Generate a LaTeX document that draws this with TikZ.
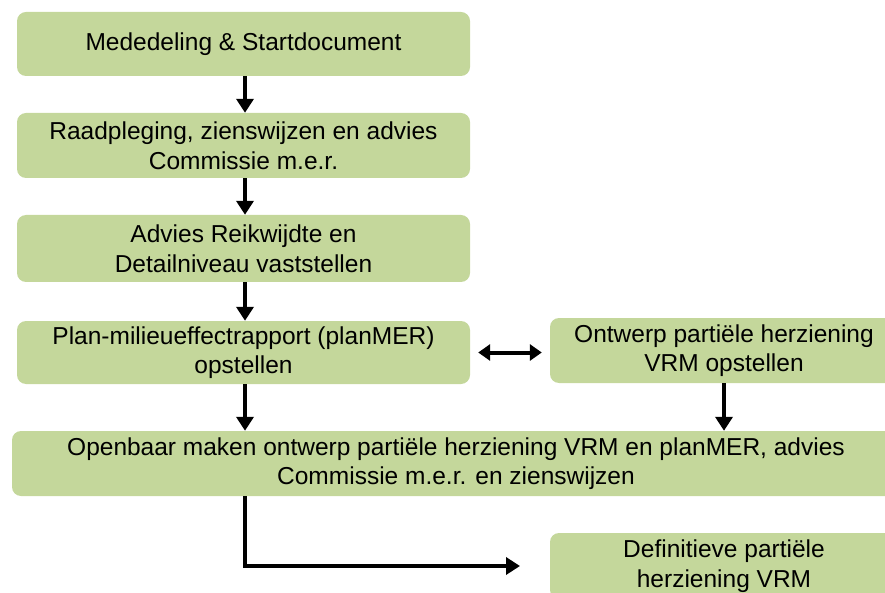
\documentclass[tikz,border=0pt]{standalone}
\usepackage{fontspec}
\setmainfont{Liberation Sans}
\usetikzlibrary{arrows.meta}
\definecolor{boxgreen}{HTML}{C4D79B}
\tikzset{
  stepbox/.style={fill=boxgreen, rounded corners=9pt, align=center, inner sep=0pt,
    font=\fontsize{24.5}{29.5}\selectfont},
  flow/.style={line width=4pt, -{Triangle[length=14pt,width=17pt]}},
  flowboth/.style={line width=4pt, {Triangle[length=12pt,width=16pt]}-{Triangle[length=12pt,width=16pt]}}
}
\begin{document}
\begin{tikzpicture}[x=1pt,y=-1pt]
\useasboundingbox (0,0) rectangle (885,593);
\clip (0,0) rectangle (885,593);
\node[stepbox, minimum width=453pt, minimum height=64pt] (b1) at (243.5,44) {Mededeling \& Startdocument};
\node[stepbox, minimum width=453pt, minimum height=65pt] (b2) at (243.5,145.5) {Raadpleging, zienswijzen en advies\\Commissie m.e.r.};
\node[stepbox, minimum width=453pt, minimum height=67pt] (b3) at (243.5,248.5) {Advies Reikwijdte en\\Detailniveau vaststellen};
\node[stepbox, minimum width=453pt, minimum height=63pt] (b4) at (243.5,352.5) {Plan-milieueffectrapport (planMER)\\opstellen};
\node[stepbox, minimum width=348pt, minimum height=65pt] (b5) at (724,350.5) {Ontwerp partiële herziening\\VRM opstellen};
\node[stepbox, minimum width=888pt, minimum height=65pt] (b6) at (456,463.5) {Openbaar maken ontwerp partiële herziening VRM en planMER, advies\\Commissie m.e.r. en zienswijzen};
\node[stepbox, minimum width=348pt, minimum height=66pt] (b7) at (724,566) {Definitieve partiële\\herziening VRM};
\coordinate (e1) at (520,566);
\draw[flow] ([xshift=1.5pt]b1.south) -- ([xshift=1.5pt]b2.north);
\draw[flow] ([xshift=1.5pt]b2.south) -- ([xshift=1.5pt]b3.north);
\draw[flow] ([xshift=1.5pt]b3.south) -- ([xshift=1.5pt]b4.north);
\draw[flow] ([xshift=1.5pt]b4.south) -- ([xshift=1.5pt]b4.south |- b6.north);
\draw[flow] (b5.south) -- (b5.south |- b6.north);
\draw[flowboth] ([xshift=8pt]b4.east) -- ([xshift=-8pt]b4.east -| b5.west);
\draw[flow] ([xshift=1.5pt]b4.south |- b6.south) |- (e1);
\end{tikzpicture}
\end{document}
